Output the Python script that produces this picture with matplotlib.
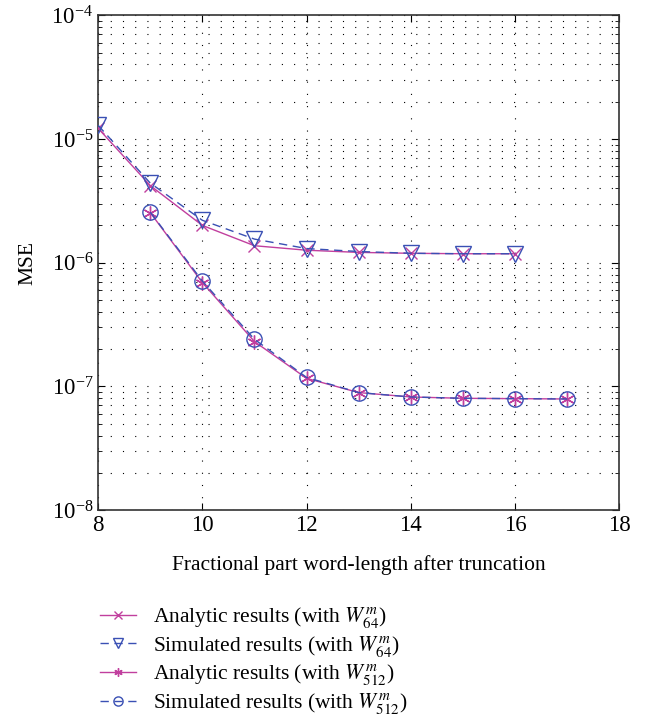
import matplotlib
matplotlib.use("Agg")
import matplotlib.pyplot as plt
from matplotlib.ticker import LogLocator, NullFormatter, FixedLocator

plt.rcParams['font.family'] = ['Liberation Serif', 'DejaVu Serif']
plt.rcParams['mathtext.fontset'] = 'stix'

x64 = [8, 9, 10, 11, 12, 13, 14, 15, 16]
analytic64 = [1.22e-5, 4.2e-6, 2.0e-6, 1.37e-6, 1.26e-6, 1.21e-6, 1.19e-6, 1.18e-6, 1.18e-6]
simulated64 = [1.29e-5, 4.4e-6, 2.2e-6, 1.55e-6, 1.30e-6, 1.23e-6, 1.19e-6, 1.18e-6, 1.18e-6]

x512 = [9, 10, 11, 12, 13, 14, 15, 16, 17]
analytic512 = [2.54e-6, 6.9e-7, 2.3e-7, 1.16e-7, 8.9e-8, 8.2e-8, 8.0e-8, 7.95e-8, 7.9e-8]
simulated512 = [2.56e-6, 7.1e-7, 2.4e-7, 1.18e-7, 8.9e-8, 8.2e-8, 8.0e-8, 7.95e-8, 7.9e-8]

labels = [r'Analytic results (with $W_{64}^{m}$)',
          r'Simulated results (with $W_{64}^{m}$)',
          r'Analytic results (with $W_{512}^{m}$)',
          r'Simulated results (with $W_{512}^{m}$)']

xticks = [8, 10, 12, 14, 16, 18]

magenta = '#c13f9e'
blue = '#3a50b4'

fig = plt.figure(figsize=(6.54, 7.17), dpi=100)
ax = fig.add_axes([0.150, 0.2887, 0.797, 0.690])

ax.plot(x64, analytic64, color=magenta, lw=1.0, marker='x', ms=9, mew=1.0, label=labels[0], zorder=3)
ax.plot(x64, simulated64, color=blue, lw=1.0, ls=(0, (6, 4)), marker='v', ms=12, mew=1.0,
        mfc='none', label=labels[1], zorder=3)
ax.plot(x512, analytic512, color=magenta, lw=1.0, marker=(6, 2, 0), ms=10, mew=1.0, label=labels[2], zorder=3)
ax.plot(x512, simulated512, color=blue, lw=1.0, ls=(0, (6, 4)), marker='o', ms=11, mew=1.0,
        mfc='none', label=labels[3], zorder=3)

ax.set_yscale('log')
ax.set_xlim(8, 18)
ax.set_ylim(1e-8, 1e-4)
ax.xaxis.set_major_locator(FixedLocator(xticks))
ax.yaxis.set_major_locator(LogLocator(base=10, numticks=10))
ax.yaxis.set_minor_locator(LogLocator(base=10, subs=range(2, 10), numticks=20))
ax.yaxis.set_minor_formatter(NullFormatter())

grid_ls = (0, (1, 10))
ax.grid(True, which='major', axis='both', color='black', ls=grid_ls, lw=0.8)
ax.grid(True, which='minor', axis='y', color='black', ls=grid_ls, lw=0.8)

ax.tick_params(which='both', direction='in', top=True, right=True, labelsize=16.5)
ax.tick_params(which='major', length=5)
ax.tick_params(which='minor', length=3)
for s in ax.spines.values():
    s.set_linewidth(1.2)
    s.set_color('#333333')

ax.set_xlabel('Fractional part word-length after truncation', fontsize=15.5, labelpad=14)
ax.set_ylabel('MSE', fontsize=15.5, labelpad=10)

handles, lbls = ax.get_legend_handles_labels()
fig.legend(handles, lbls, loc='upper left', bbox_to_anchor=(0.153, 0.156), frameon=False,
           fontsize=15.5, handlelength=1.65, labelspacing=0.17, handletextpad=0.8,
           borderaxespad=0, borderpad=0, markerscale=0.6)

fig.savefig('out.png', dpi=100)
